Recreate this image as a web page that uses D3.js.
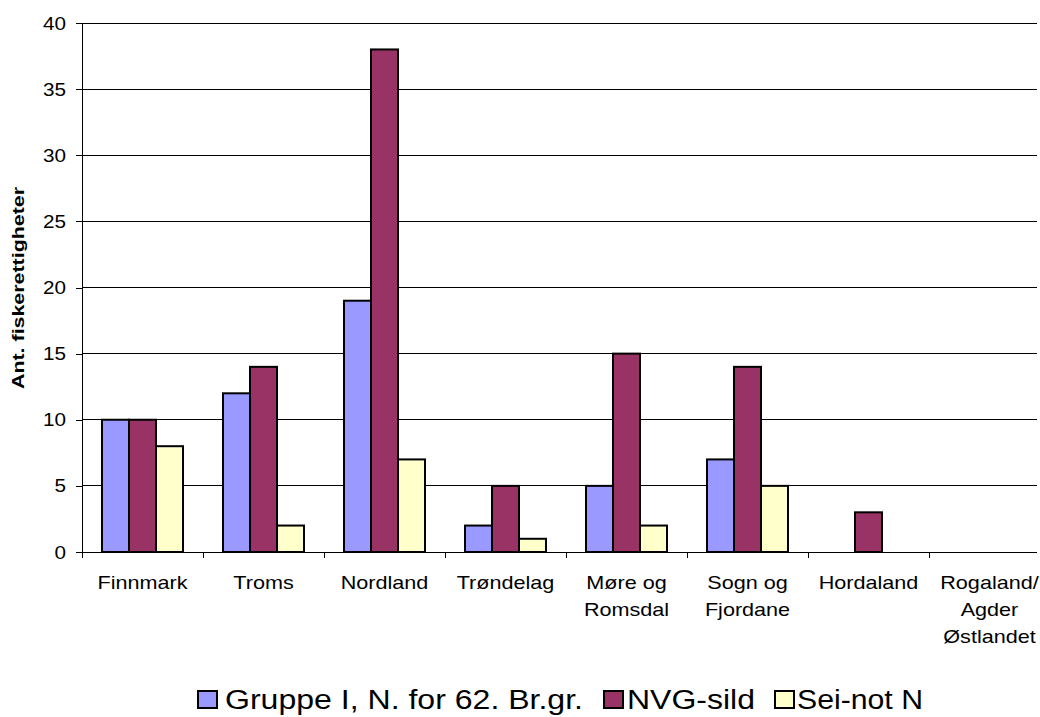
<!DOCTYPE html>
<html><head><meta charset="utf-8">
<script src="https://cdn.jsdelivr.net/npm/d3@7"></script>
<style>body{margin:0;background:#fff;}svg{display:block;} svg text{font-family:"Liberation Sans",Arial,sans-serif;}</style>
</head><body>
<svg id="c" width="1040" height="717"></svg>
<script>
const categories = [["Finnmark"],["Troms"],["Nordland"],["Trøndelag"],["Møre og","Romsdal"],["Sogn og","Fjordane"],["Hordaland"],["Rogaland/","Agder","Østlandet"]];
const seriesNames = ["Gruppe I, N. for 62. Br.gr.","NVG-sild","Sei-not N"];
const gruppe = [10,12,19,2,5,7,0,0];
const nvg = [10,14,38,5,15,14,3,0];
const sei = [8,2,7,1,2,5,0,0];
const colors = ["#9999FF","#993366","#FFFFCC"];
const yTicks = [0,5,10,15,20,25,30,35,40];

(function(){
const svg = d3.select("#c");
const mLeft = 82, mTop = 23, mBottom = 552, bandW = 121;
const clipRight = 1037;
const x = d3.scaleBand().domain(d3.range(categories.length)).range([mLeft, mLeft + bandW*categories.length]).paddingInner(0).paddingOuter(0);
const y = d3.scaleLinear().domain([0,40]).range([mBottom, mTop]);
const inner = d3.scaleBand().domain([0,1,2]).range([20, bandW-20]);

svg.append("g").selectAll("line").data(yTicks.filter(d=>d>0)).join("line")
  .attr("x1", mLeft).attr("x2", clipRight).attr("y1", d=>y(d)).attr("y2", d=>y(d))
  .attr("stroke","#000").attr("stroke-width",1).attr("shape-rendering","crispEdges");

const yAxis = svg.append("g").attr("transform",`translate(${mLeft},0)`)
  .call(d3.axisLeft(y).tickValues(yTicks).tickSize(6).tickFormat(""));
yAxis.select(".domain").attr("stroke","#000").attr("shape-rendering","crispEdges");
yAxis.selectAll(".tick line").attr("stroke","#000").attr("shape-rendering","crispEdges");
svg.append("g").selectAll("text").data(yTicks).join("text")
  .attr("transform", d=>`translate(${mLeft-16},${y(d)+6.5}) scale(1.15,1)`)
  .attr("text-anchor","end").attr("font-size",18).attr("fill","#000").text(d=>d);

const allSeries = [gruppe,nvg,sei];
allSeries.forEach((vals,si)=>{
  svg.append("g").selectAll("rect").data(vals.map((v,i)=>({v,i})).filter(d=>d.v>0)).join("rect")
    .attr("x", d=>x(d.i)+inner(si)).attr("width", inner.bandwidth())
    .attr("y", d=>y(d.v)).attr("height", d=>y(0)-y(d.v))
    .attr("fill", colors[si]).attr("stroke","#000").attr("stroke-width",2);
});

svg.append("line").attr("x1",mLeft).attr("x2",clipRight).attr("y1",mBottom).attr("y2",mBottom)
  .attr("stroke","#000").attr("stroke-width",1).attr("shape-rendering","crispEdges");
svg.append("g").selectAll("line").data(d3.range(categories.length)).join("line")
  .attr("x1",d=>x(d)).attr("x2",d=>x(d)).attr("y1",mBottom).attr("y2",mBottom+6)
  .attr("stroke","#000").attr("shape-rendering","crispEdges");
const labels = svg.append("g").selectAll("text").data(categories).join("text")
  .attr("text-anchor","middle").attr("font-size",18).attr("fill","#000")
  .attr("transform",(d,i)=>`translate(${x(i)+bandW/2},589) scale(1.2,1)`);
labels.selectAll("tspan").data(d=>d).join("tspan")
  .attr("x",0)
  .attr("dy",(d,i)=>i===0?0:27).text(d=>d);

svg.append("text").attr("transform","translate(24,288) rotate(-90)")
  .attr("text-anchor","middle").attr("font-size",17).attr("font-weight","bold").attr("fill","#000")
  .attr("textLength",202).attr("lengthAdjust","spacingAndGlyphs")
  .text("Ant. fiskerettigheter");

const legendItems = [{x:197,tx:225,w:358},{x:603,tx:627,w:128},{x:774,tx:797,w:126}];
const lg = svg.append("g");
seriesNames.forEach((n,i)=>{
  lg.append("rect").attr("x",legendItems[i].x+1).attr("y",691).attr("width",19).attr("height",17)
    .attr("fill",colors[i]).attr("stroke","#000").attr("stroke-width",2);
  lg.append("text").attr("x",legendItems[i].tx).attr("y",709).attr("font-size",27).attr("fill","#000")
    .attr("textLength",legendItems[i].w).attr("lengthAdjust","spacingAndGlyphs").text(n);
});
})();
</script>
</body></html>
